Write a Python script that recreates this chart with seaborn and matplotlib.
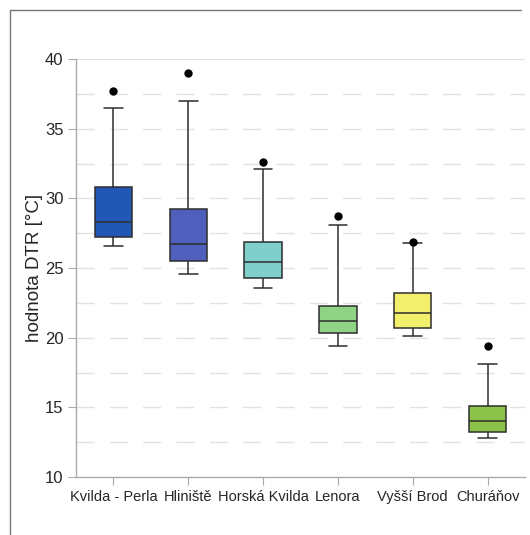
import pandas as pd
import matplotlib.pyplot as plt
import seaborn as sns
from matplotlib.lines import Line2D

# -------------------------------------
# Values (box summaries per station)
# -------------------------------------
stations = ["Kvilda - Perla", "Hliniště", "Horská Kvilda", "Lenora", "Vyšší Brod", "Churáňov"]
whisker_low = [26.6, 24.6, 23.6, 19.4, 20.1, 12.8]
q1 = [27.2, 25.5, 24.3, 20.3, 20.7, 13.2]
median = [28.3, 26.7, 25.4, 21.2, 21.8, 14.0]
q3 = [30.8, 29.2, 26.9, 22.3, 23.2, 15.1]
whisker_high = [36.5, 37.0, 32.1, 28.1, 26.8, 18.1]
outliers = [37.7, 39.0, 32.6, 28.7, 26.9, 19.4]
colors = ["#2158b5", "#4e60bb", "#7fcfcb", "#8fd485", "#f2ef6c", "#8bc34a"]

# long table: five summary values per station -> quartiles are exact
rows = []
for i, s in enumerate(stations):
    for v in (whisker_low[i], q1[i], median[i], q3[i], whisker_high[i]):
        rows.append({"station": s, "value": v})
df = pd.DataFrame(rows)
out_df = pd.DataFrame({"station": stations, "value": outliers})

sns.set_style("white")
plt.rcParams["font.family"] = ["Liberation Sans", "DejaVu Sans"]

fig = plt.figure(figsize=(5.3, 5.35), dpi=100)
ax = fig.add_axes([0.1434, 0.1084, 0.8472, 0.7813])

# grid
for y in [12.5, 15, 17.5, 20, 22.5, 25, 27.5, 30, 32.5, 35, 37.5]:
    ax.axhline(y, color="#e2e2e2", lw=1, dashes=(13, 11), zorder=0)
ax.axhline(40, color="#e0e0e0", lw=1.5, zorder=0)

sns.boxplot(data=df, x="station", y="value", hue="station", palette=colors,
            order=stations, hue_order=stations, legend=False,
            whis=(0, 100), showfliers=False, width=0.5,
            linecolor="#2e2e2e", linewidth=1.1, saturation=1, ax=ax)
sns.stripplot(data=out_df, x="station", y="value", order=stations,
              jitter=False, color="black", size=6, ax=ax, zorder=5)

ax.set_ylim(10, 40)
ax.set_xlim(-0.5, 5.5)
ax.set_yticks(range(10, 41, 5))
ax.set_xlabel("")
ax.set_ylabel("hodnota DTR [°C]", fontsize=13.5, labelpad=1)
ax.tick_params(axis="both", length=6, color="#aaaaaa",
               left=True, bottom=True, pad=3)
ax.tick_params(axis="x", labelsize=10.5)
ax.tick_params(axis="y", labelsize=12)
for side in ["top", "right"]:
    ax.spines[side].set_visible(False)
for side in ["left", "bottom"]:
    ax.spines[side].set_color("#aaaaaa")
    ax.spines[side].set_linewidth(1)

# outer frame (left and top edges)
fig.add_artist(Line2D([9.5 / 530, 9.5 / 530], [0, 1 - 10 / 535], color="#777777", lw=1))
fig.add_artist(Line2D([9.5 / 530, 521 / 530], [1 - 10 / 535, 1 - 10 / 535], color="#777777", lw=1))

fig.savefig("out.png", dpi=100)
